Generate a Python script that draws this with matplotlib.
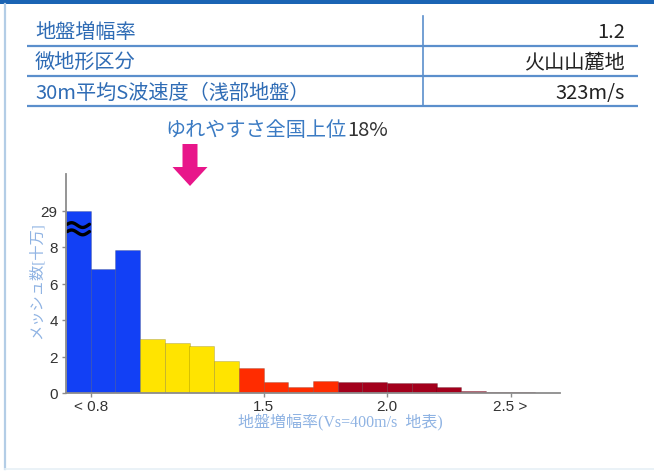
import numpy as np
import matplotlib
matplotlib.use("Agg")
import matplotlib.pyplot as plt
from matplotlib.patches import FancyArrow, Rectangle

plt.rcParams['font.family'] = ['Noto Sans CJK JP', 'DejaVu Sans']

# table rows
row_names = ["地盤増幅率", "微地形区分", "30m平均S波速度（浅部地盤）"]
row_values = ["1.2", "火山山麓地", "323m/s"]

# histogram (left edge of each 0.1 bin, count in 100k meshes)
bin_left = [0.7, 0.8, 0.9, 1.0, 1.1, 1.2, 1.3, 1.4, 1.5, 1.6,
            1.7, 1.8, 1.9, 2.0, 2.1, 2.2, 2.3, 2.4, 2.5]
counts = [29, 6.8, 7.85, 2.96, 2.72, 2.6, 1.74, 1.37, 0.58, 0.35,
          0.68, 0.58, 0.58, 0.55, 0.55, 0.35, 0.1, 0.05, 0.04]
break_at = 10  # bars above this are cut with a break mark

yticks = [0, 2, 4, 6, 8, 10]
ytick_labels = ["0", "2", "4", "6", "8", "29"]
xticks = [0.8, 1.5, 2.0, 2.5]
xtick_labels = ["< 0.8", "1.5", "2.0", "2.5 >"]

rank_text = "ゆれやすさ全国上位"
rank_value = "18%"

W, H = 654, 477
fig = plt.figure(figsize=(W / 100, H / 100), dpi=100)

# background layer in pixel coords
bg = fig.add_axes([0, 0, 1, 1])
bg.set_xlim(0, W)
bg.set_ylim(H, 0)
bg.axis('off')
bg.add_patch(Rectangle((0, 0), W, 5, color='#1a64b4', lw=0))
bg.plot([5, 5], [5, 470], color='#b3cde6', lw=1.6)
bg.plot([5, W], [470, 470], color='#e6f0f6', lw=1.2)

line_c = '#5b8fcc'
for y in [46.7, 77.3, 107.3]:
    bg.plot([27, 638], [y, y], color=line_c, lw=1.6, solid_capstyle='butt')
bg.plot([423, 423], [17, 107.3], color=line_c, lw=1.2)
for i, (nm, val) in enumerate(zip(row_names, row_values)):
    yc = 32 + 30.6 * i
    bg.text(35, yc, nm, fontsize=14.5, color='#2f6cb5', va='center', ha='left')
    bg.text(625, yc, val, fontsize=14.5, color='#222222', va='center', ha='right')

# ranking annotation and arrow
bg.text(347, 131, rank_text, fontsize=14.5, color='#3b7bc3', va='center', ha='right')
bg.text(347, 131, rank_value, fontsize=14.5, color='#333333', va='center', ha='left')
bg.add_patch(FancyArrow(190, 145, 0, 42, width=15, head_width=35, head_length=19,
                        length_includes_head=True, color='#e8168a', lw=0))

# chart axes
x0, x1 = 66, 560
y0, y1 = 394, 175
ax = fig.add_axes([x0 / W, (H - y0) / H, (x1 - x0) / W, (y0 - y1) / H])
ax.set_xlim(0.7, 2.7)
ax.set_ylim(0, (y0 - y1) / 18.25)
ax.patch.set_alpha(0)

colors = []
for b in bin_left:
    if b < 0.95:
        colors.append('#1240f5')
    elif b < 1.35:
        colors.append('#ffe400')
    elif b < 1.75:
        colors.append('#ff2c00')
    else:
        colors.append('#a3001c')
heights = [min(c, break_at) for c in counts]
ax.bar(bin_left, heights, width=0.1, align='edge', color=colors,
       edgecolor=(0, 0, 0, 0.18), linewidth=0.6)

# break mark on cut bars
for b, c in zip(bin_left, counts):
    if c > break_at:
        xs = np.linspace(b + 0.005, b + 0.095, 60)
        for yb in [9.2, 8.8]:
            ax.plot(xs, yb + 0.13 * np.sin(2 * np.pi * (xs - b) / 0.09),
                    color='black', lw=2.4, solid_capstyle='round')

for s in ['top', 'right']:
    ax.spines[s].set_visible(False)
for s in ['left', 'bottom']:
    ax.spines[s].set_color('#8c8c8c')
    ax.spines[s].set_linewidth(1.3)
ax.set_yticks(yticks)
ax.set_yticklabels(ytick_labels)
ax.set_xticks(xticks)
ax.set_xticklabels(xtick_labels)
ax.tick_params(axis='both', colors='#8c8c8c', length=3, width=1, labelcolor='#333333',
               labelsize=11)
ax.tick_params(axis='y', pad=3)
ax.tick_params(axis='x', pad=1)
for lab in ax.get_xticklabels() + ax.get_yticklabels():
    lab.set_family(['Liberation Sans', 'DejaVu Sans'])

label_c = '#8fb3e3'
fig.text(340 / W, (H - 423) / H, "地盤増幅率(Vs=400m/s  地表)", fontsize=11.5, color=label_c,
         ha='center', va='center', family=['Liberation Serif', 'Noto Sans CJK JP'])
fig.text(36 / W, (H - 281) / H, "メッシュ数[十万]", fontsize=11, color=label_c,
         ha='center', va='center', rotation=90, family=['Liberation Serif', 'Noto Sans CJK JP'])

plt.savefig("out.png", dpi=100)
